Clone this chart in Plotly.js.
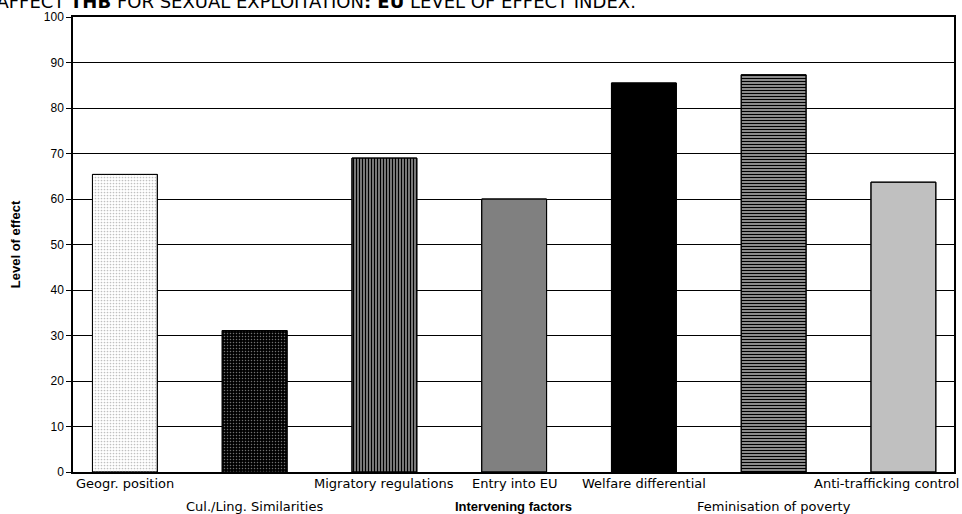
<!DOCTYPE html>
<html>
<head>
<meta charset="utf-8">
<script src="https://cdn.plot.ly/plotly-3.0.1.min.js"></script>
<style>
  html, body { margin: 0; padding: 0; background: #fff; }
  #chart { width: 962px; height: 514px; }
</style>
</head>
<body>
<div id="chart"></div>
<script>
// ---- data ----
const categories = [
  "Geogr. position",
  "Cul./Ling. Similarities",
  "Migratory regulations",
  "Entry into EU",
  "Welfare differential",
  "Feminisation of poverty",
  "Anti-trafficking control"
];
const levelOfEffect = [65.4, 31.1, 69.0, 60.0, 85.5, 87.3, 63.7];
const yTickValues = [0, 10, 20, 30, 40, 50, 60, 70, 80, 90, 100];
const titleText = "AFFECT <b>THB</b> FOR SEXUAL EXPLOITATION<b>: EU</b> LEVEL OF EFFECT INDEX.";
const xTitleText = "Intervening factors";
const yTitleText = "Level of effect";

// ---- styles ----
const barBg      = ["#ffffff", "#000000", "#a0a0a0", "#808080", "#000000", "#a8a8a8", "#c0c0c0"];
const barFg      = ["#c0c0c0", "#707070", "#000000", "#808080", "#000000", "#000000", "#c0c0c0"];
const barShape   = [".", ".", "|", "", "", "-", ""];
const barSolid   = [0.25, 0.2, 0.5, 0.3, 0.3, 0.45, 0.3];
const labelRow   = [0, 1, 0, 0, 0, 1, 0];
const labelFont  = "'DejaVu Sans', sans-serif";
const arialFont  = "'Liberation Sans', Arial, sans-serif";

// solid background of each bar
const baseTrace = {
  type: "bar",
  x: categories,
  y: levelOfEffect,
  width: 0.5,
  marker: {
    color: barBg,
    line: { color: "#000000", width: 1 }
  },
  hoverinfo: "x+y"
};

// hatch / dot pattern drawn over the solid bars
const patternTrace = {
  type: "bar",
  x: categories,
  y: levelOfEffect,
  width: 0.5,
  marker: {
    color: "rgba(0,0,0,0)",
    line: { color: "#000000", width: 1 },
    pattern: {
      shape: barShape,
      fgcolor: barFg,
      bgcolor: "rgba(0,0,0,0)",
      size: 3,
      solidity: barSolid
    }
  },
  hoverinfo: "skip"
};

// category labels: staggered in two rows
const annotations = categories.map((c, i) => {
  const last = i === categories.length - 1;
  return {
    xref: last ? "paper" : "x", yref: "paper",
    x: last ? 1.008 : i,
    y: 0,
    xanchor: last ? "right" : "center",
    yanchor: "top",
    yshift: labelRow[i] === 0 ? -2 : -25,
    text: c,
    showarrow: false,
    font: { family: labelFont, size: 13, color: "#000" }
  };
});

const layout = {
  width: 962,
  height: 514,
  margin: { l: 73, r: 8, t: 17, b: 42 },
  paper_bgcolor: "#ffffff",
  plot_bgcolor: "#ffffff",
  showlegend: false,
  barmode: "overlay",
  title: {
    text: titleText,
    xref: "container", yref: "container",
    x: 0.661, xanchor: "right",
    y: 0.997, yanchor: "middle",
    font: { family: labelFont, size: 18, color: "#000" }
  },
  xaxis: {
    type: "category",
    range: [-0.4, 6.39],
    showticklabels: false,
    ticks: "",
    showgrid: false,
    showline: true,
    linecolor: "#000",
    linewidth: 1.5,
    mirror: true,
    fixedrange: true,
    title: {
      text: "<b>" + xTitleText + "</b>",
      standoff: 29,
      font: { family: arialFont, size: 13, color: "#000" }
    },
    automargin: false
  },
  yaxis: {
    range: [0, 100],
    tickvals: yTickValues,
    ticktext: yTickValues.map(String),
    ticks: "outside",
    ticklen: 5,
    tickcolor: "#000",
    tickwidth: 1,
    showgrid: true,
    gridcolor: "#000",
    gridwidth: 1,
    zeroline: false,
    showline: true,
    linecolor: "#000",
    linewidth: 1.5,
    mirror: true,
    fixedrange: true,
    tickfont: { family: arialFont, size: 12, color: "#000" },
    title: {
      text: "<b>" + yTitleText + "</b>",
      standoff: 20,
      font: { family: arialFont, size: 13, color: "#000" }
    },
    automargin: false
  },
  annotations: annotations
};

Plotly.newPlot("chart", [baseTrace, patternTrace], layout, { displayModeBar: false });
</script>
</body>
</html>
